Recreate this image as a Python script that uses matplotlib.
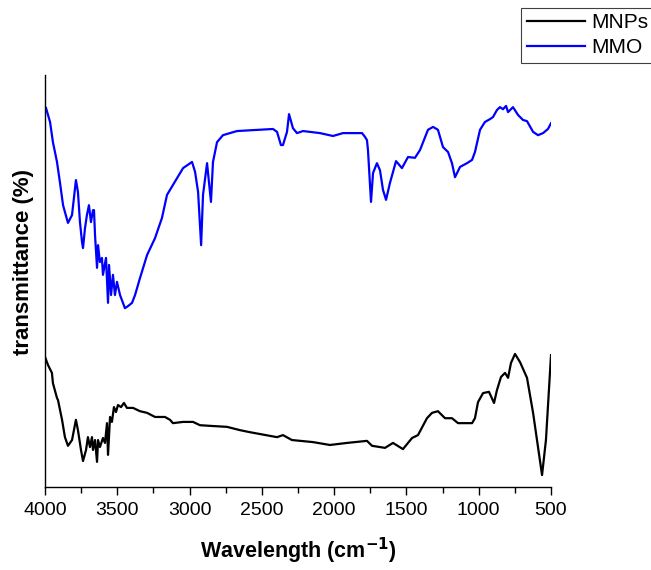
import matplotlib
matplotlib.use("Agg")
import matplotlib.pyplot as plt
from matplotlib.ticker import MultipleLocator

plt.rcParams['font.family'] = ['Liberation Sans', 'DejaVu Sans']

# FTIR spectrum of the bare magnetic nanoparticles (wavenumber, transmittance a.u.)
mnps_wn = [4000, 3979, 3952, 3945, 3917, 3910, 3882, 3862, 3841, 3813, 3786, 3772,
           3751, 3737, 3716, 3703, 3689, 3675, 3668, 3654, 3640, 3633, 3620, 3599,
           3585, 3571, 3564, 3550, 3537, 3523, 3509, 3495, 3474, 3454, 3433, 3391,
           3343, 3294, 3239, 3170, 3135, 3115, 3045, 2976, 2928, 2838, 2741, 2651,
           2582, 2395, 2354, 2292, 2146, 2029, 1911, 1773, 1738, 1648, 1593, 1524,
           1461, 1420, 1358, 1323, 1282, 1233, 1185, 1143, 1046, 1026, 1005, 970,
           929, 894, 874, 846, 818, 797, 777, 749, 714, 666, 624, 562, 535, 500]
mnps_t = [31.6, 29.6, 27.7, 25.2, 21.6, 21.1, 16.3, 12.1, 10.0, 11.4, 16.3, 13.8,
          9.0, 6.3, 9.0, 12.1, 9.7, 12.1, 9.0, 11.4, 6.1, 11.4, 9.7, 11.9,
          10.7, 15.5, 7.8, 17.0, 15.8, 19.4, 18.2, 19.9, 19.4, 20.4, 19.2, 19.2,
          18.4, 18.0, 17.0, 17.0, 16.3, 15.5, 15.8, 15.8, 15.0, 14.8, 14.6, 13.8,
          13.3, 12.1, 12.6, 11.4, 10.9, 10.2, 10.7, 11.2, 10.0, 9.5, 10.7, 9.2,
          11.9, 12.6, 16.7, 18.0, 18.4, 16.7, 16.7, 15.5, 15.5, 16.7, 20.6, 22.8,
          23.1, 20.4, 23.5, 26.7, 27.7, 26.5, 30.1, 32.3, 30.3, 26.5, 18.0, 2.9, 11.4, 32.0]

# FTIR spectrum of the modified material
mmo_wn = [3993, 3965, 3945, 3917, 3896, 3875, 3841, 3813, 3786, 3772, 3758, 3744,
          3737, 3723, 3710, 3696, 3682, 3668, 3661, 3654, 3640, 3633, 3620, 3606,
          3599, 3578, 3564, 3557, 3543, 3530, 3516, 3502, 3481, 3447, 3426, 3398,
          3377, 3343, 3294, 3239, 3191, 3156, 3115, 3045, 2983, 2962, 2941, 2920,
          2907, 2879, 2852, 2838, 2810, 2769, 2672, 2423, 2395, 2368, 2354, 2326,
          2312, 2285, 2257, 2215, 2098, 2008, 1939, 1870, 1807, 1787, 1773, 1766,
          1745, 1731, 1704, 1683, 1662, 1641, 1614, 1572, 1531, 1489, 1441, 1406,
          1351, 1316, 1282, 1247, 1212, 1185, 1164, 1129, 1081, 1046, 1026, 991,
          957, 922, 901, 874, 853, 832, 811, 797, 763, 728, 694, 666, 624, 590,
          555, 521, 500]
mmo_t = [92.0, 88.6, 83.7, 78.9, 73.8, 68.4, 64.1, 66.0, 74.5, 71.6, 64.3, 59.5,
         58.0, 62.9, 66.0, 68.4, 64.3, 67.2, 67.2, 61.2, 53.2, 58.7, 54.6, 55.6,
         51.5, 55.6, 44.7, 53.9, 46.6, 51.5, 46.6, 49.8, 46.6, 43.4, 43.9, 44.7,
         46.6, 50.7, 56.3, 60.4, 65.3, 70.9, 73.3, 77.4, 78.9, 76.5, 71.6, 58.7,
         70.9, 78.6, 69.2, 78.9, 83.7, 85.4, 86.4, 86.9, 86.2, 83.0, 83.0, 86.2,
         90.5, 87.1, 85.9, 86.4, 85.9, 85.2, 85.9, 85.9, 85.9, 85.0, 84.2, 81.8,
         69.2, 76.2, 78.6, 76.9, 72.1, 69.7, 73.8, 79.1, 77.4, 80.1, 79.9, 81.8,
         86.7, 87.4, 86.7, 82.5, 81.3, 78.6, 75.2, 77.7, 78.6, 79.4, 81.3, 86.7,
         88.6, 89.3, 89.8, 91.5, 92.2, 91.7, 92.5, 91.0, 92.2, 90.3, 89.1, 88.8,
         86.2, 85.4, 85.9, 86.9, 88.3]

x_ticks = [4000, 3500, 3000, 2500, 2000, 1500, 1000, 500]

fig = plt.figure(figsize=(6.51, 5.70), dpi=100)
ax = fig.add_axes([0.0691, 0.1456, 0.7773, 0.7228])

l1, = ax.plot(mnps_wn, mnps_t, color='black', lw=1.6, label='MNPs')
l2, = ax.plot(mmo_wn, mmo_t, color='#0000ff', lw=1.6, label='MMO')

ax.set_xlim(4000, 500)
ax.set_ylim(0, 100)
ax.set_xticks(x_ticks)
ax.xaxis.set_minor_locator(MultipleLocator(250))
ax.tick_params(axis='x', which='major', direction='out', length=6, width=1,
               labelsize=14, pad=5)
ax.tick_params(axis='x', which='minor', direction='out', length=4, width=1)
ax.set_yticks([])
for side in ('top', 'right'):
    ax.spines[side].set_visible(False)
for side in ('left', 'bottom'):
    ax.spines[side].set_linewidth(1.0)

ax.set_xlabel('Wavelength (cm$^{\\mathbf{-1}}$)', fontsize=15.5, fontweight='bold',
              labelpad=12)
ax.set_ylabel('transmittance (%)', fontsize=16, fontweight='bold')
ax.yaxis.set_label_coords(-0.022, 0.546)

leg = fig.legend(handles=[l1, l2], loc='upper right',
                 bbox_to_anchor=(1.004, 0.986), fontsize=15, frameon=True,
                 fancybox=False, edgecolor='#404040', framealpha=1,
                 handlelength=2.8, handletextpad=0.3, borderpad=0.25,
                 labelspacing=0.3, borderaxespad=0.0)
leg.get_frame().set_linewidth(0.8)

fig.savefig('out.png', dpi=100)
